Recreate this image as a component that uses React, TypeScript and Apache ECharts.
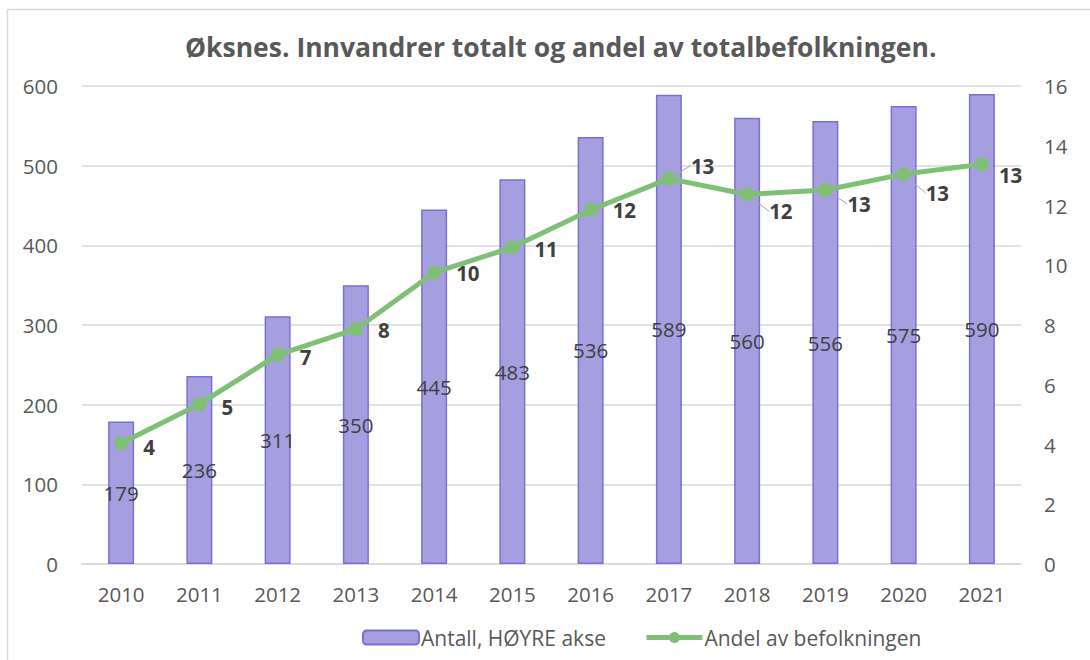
import React, { useEffect, useRef } from "react";
import * as echarts from "echarts";

const YEARS = ["2010", "2011", "2012", "2013", "2014", "2015", "2016", "2017", "2018", "2019", "2020", "2021"];
const ANTALL = [179, 236, 311, 350, 445, 483, 536, 589, 560, 556, 575, 590];
const ANDEL = [4.04, 5.35, 7.0, 7.86, 9.75, 10.6, 11.85, 12.9, 12.37, 12.52, 13.05, 13.38];
const TITLE = "Øksnes. Innvandrer totalt og andel av totalbefolkningen.";
const BAR_NAME = "Antall, HØYRE akse";
const LINE_NAME = "Andel av befolkningen";

// label nudges (style only), by index
const LABEL_DX = [0, 0, 0, 0, 0, 0, 0, 0, 0, 0, 0, -5];
const LABEL_DY = [4, 3, 2, 1, 0, 2, 0, -13, 17, 14, 19, 11];
const LEADER = [false, false, false, false, false, false, false, true, true, true, true, false];

const FONT = "'Open Sans', 'Liberation Sans', sans-serif";
const GREY = "#595959";

export default function App() {
  const ref = useRef<HTMLDivElement>(null);
  useEffect(() => {
    if (!ref.current) return;
    const chart = echarts.init(ref.current, undefined, { renderer: "svg" });
    chart.setOption({
      animation: false,
      backgroundColor: "#ffffff",
      textStyle: { fontFamily: FONT },
      graphic: [
        {
          type: "rect",
          shape: { x: 7.5, y: 9.5, width: 1200, height: 700 },
          style: { fill: "none", stroke: "#d9d9d9", lineWidth: 1.5 },
          silent: true,
          z: -10,
        },
      ],
      title: {
        text: TITLE,
        left: 180,
        top: 28,
        textStyle: { fontFamily: FONT, fontSize: 26.5, fontWeight: "bold", color: GREY },
      },
      legend: {
        left: 357,
        top: 622,
        itemWidth: 56,
        itemHeight: 14,
        itemGap: 38,
        textStyle: { fontFamily: FONT, fontSize: 21, color: GREY, padding: [0, 0, 0, -3] },
        data: [
          { name: BAR_NAME },
          { name: LINE_NAME, lineStyle: { width: 5 }, itemStyle: { color: "#80c076" } },
        ],
      },
      grid: { left: 82, right: 69, top: 86, bottom: 96 },
      xAxis: {
        type: "category",
        data: YEARS,
        axisTick: { show: false },
        axisLine: { show: true, lineStyle: { color: "#d9d9d9", width: 1.5 } },
        axisLabel: { color: GREY, fontSize: 20.5, margin: 19, fontFamily: FONT },
      },
      yAxis: [
        {
          type: "value",
          min: 0,
          max: 600,
          interval: 100,
          axisLine: { show: false },
          axisTick: { show: false },
          splitLine: { lineStyle: { color: "#d9d9d9", width: 1.5 } },
          axisLabel: { color: GREY, fontSize: 20.5, margin: 24, fontFamily: FONT },
        },
        {
          type: "value",
          min: 0,
          max: 16,
          interval: 2,
          position: "right",
          axisLine: { show: false },
          axisTick: { show: false },
          splitLine: { show: false },
          axisLabel: { color: GREY, fontSize: 20.5, margin: 23, fontFamily: FONT },
        },
      ],
      series: [
        {
          name: BAR_NAME,
          type: "bar",
          yAxisIndex: 0,
          data: ANTALL,
          barWidth: 26,
          itemStyle: { color: "#a59fe0", borderColor: "#7b6fd5", borderWidth: 1.5 },
          label: {
            show: true,
            position: "inside",
            color: "#404040",
            fontSize: 20.5,
            fontFamily: FONT,
          },
          z: 2,
        },
        {
          name: LINE_NAME,
          type: "line",
          yAxisIndex: 1,
          data: ANDEL.map((v, i) => ({
            value: v,
            labelLine: LEADER[i]
              ? { show: true, lineStyle: { color: "#a6a6a6", width: 1 } }
              : { show: false },
          })),
          symbol: "circle",
          symbolSize: 14,
          lineStyle: { color: "#80c076", width: 5 },
          itemStyle: { color: "#80c076" },
          label: {
            show: true,
            position: "right",
            distance: 15,
            color: "#404040",
            fontSize: 20.5,
            fontWeight: "bold",
            fontFamily: FONT,
            formatter: (p: any) => String(Math.round(p.value)),
          },
          labelLayout: (p: any) => ({ dx: LABEL_DX[p.dataIndex], dy: LABEL_DY[p.dataIndex] }),
          z: 5,
        },
      ],
    });
    return () => chart.dispose();
  }, []);
  return (
    <div
      ref={ref}
      style={{ position: "fixed", left: 0, top: 0, width: 1090, height: 660, background: "#fff" }}
    />
  );
}
